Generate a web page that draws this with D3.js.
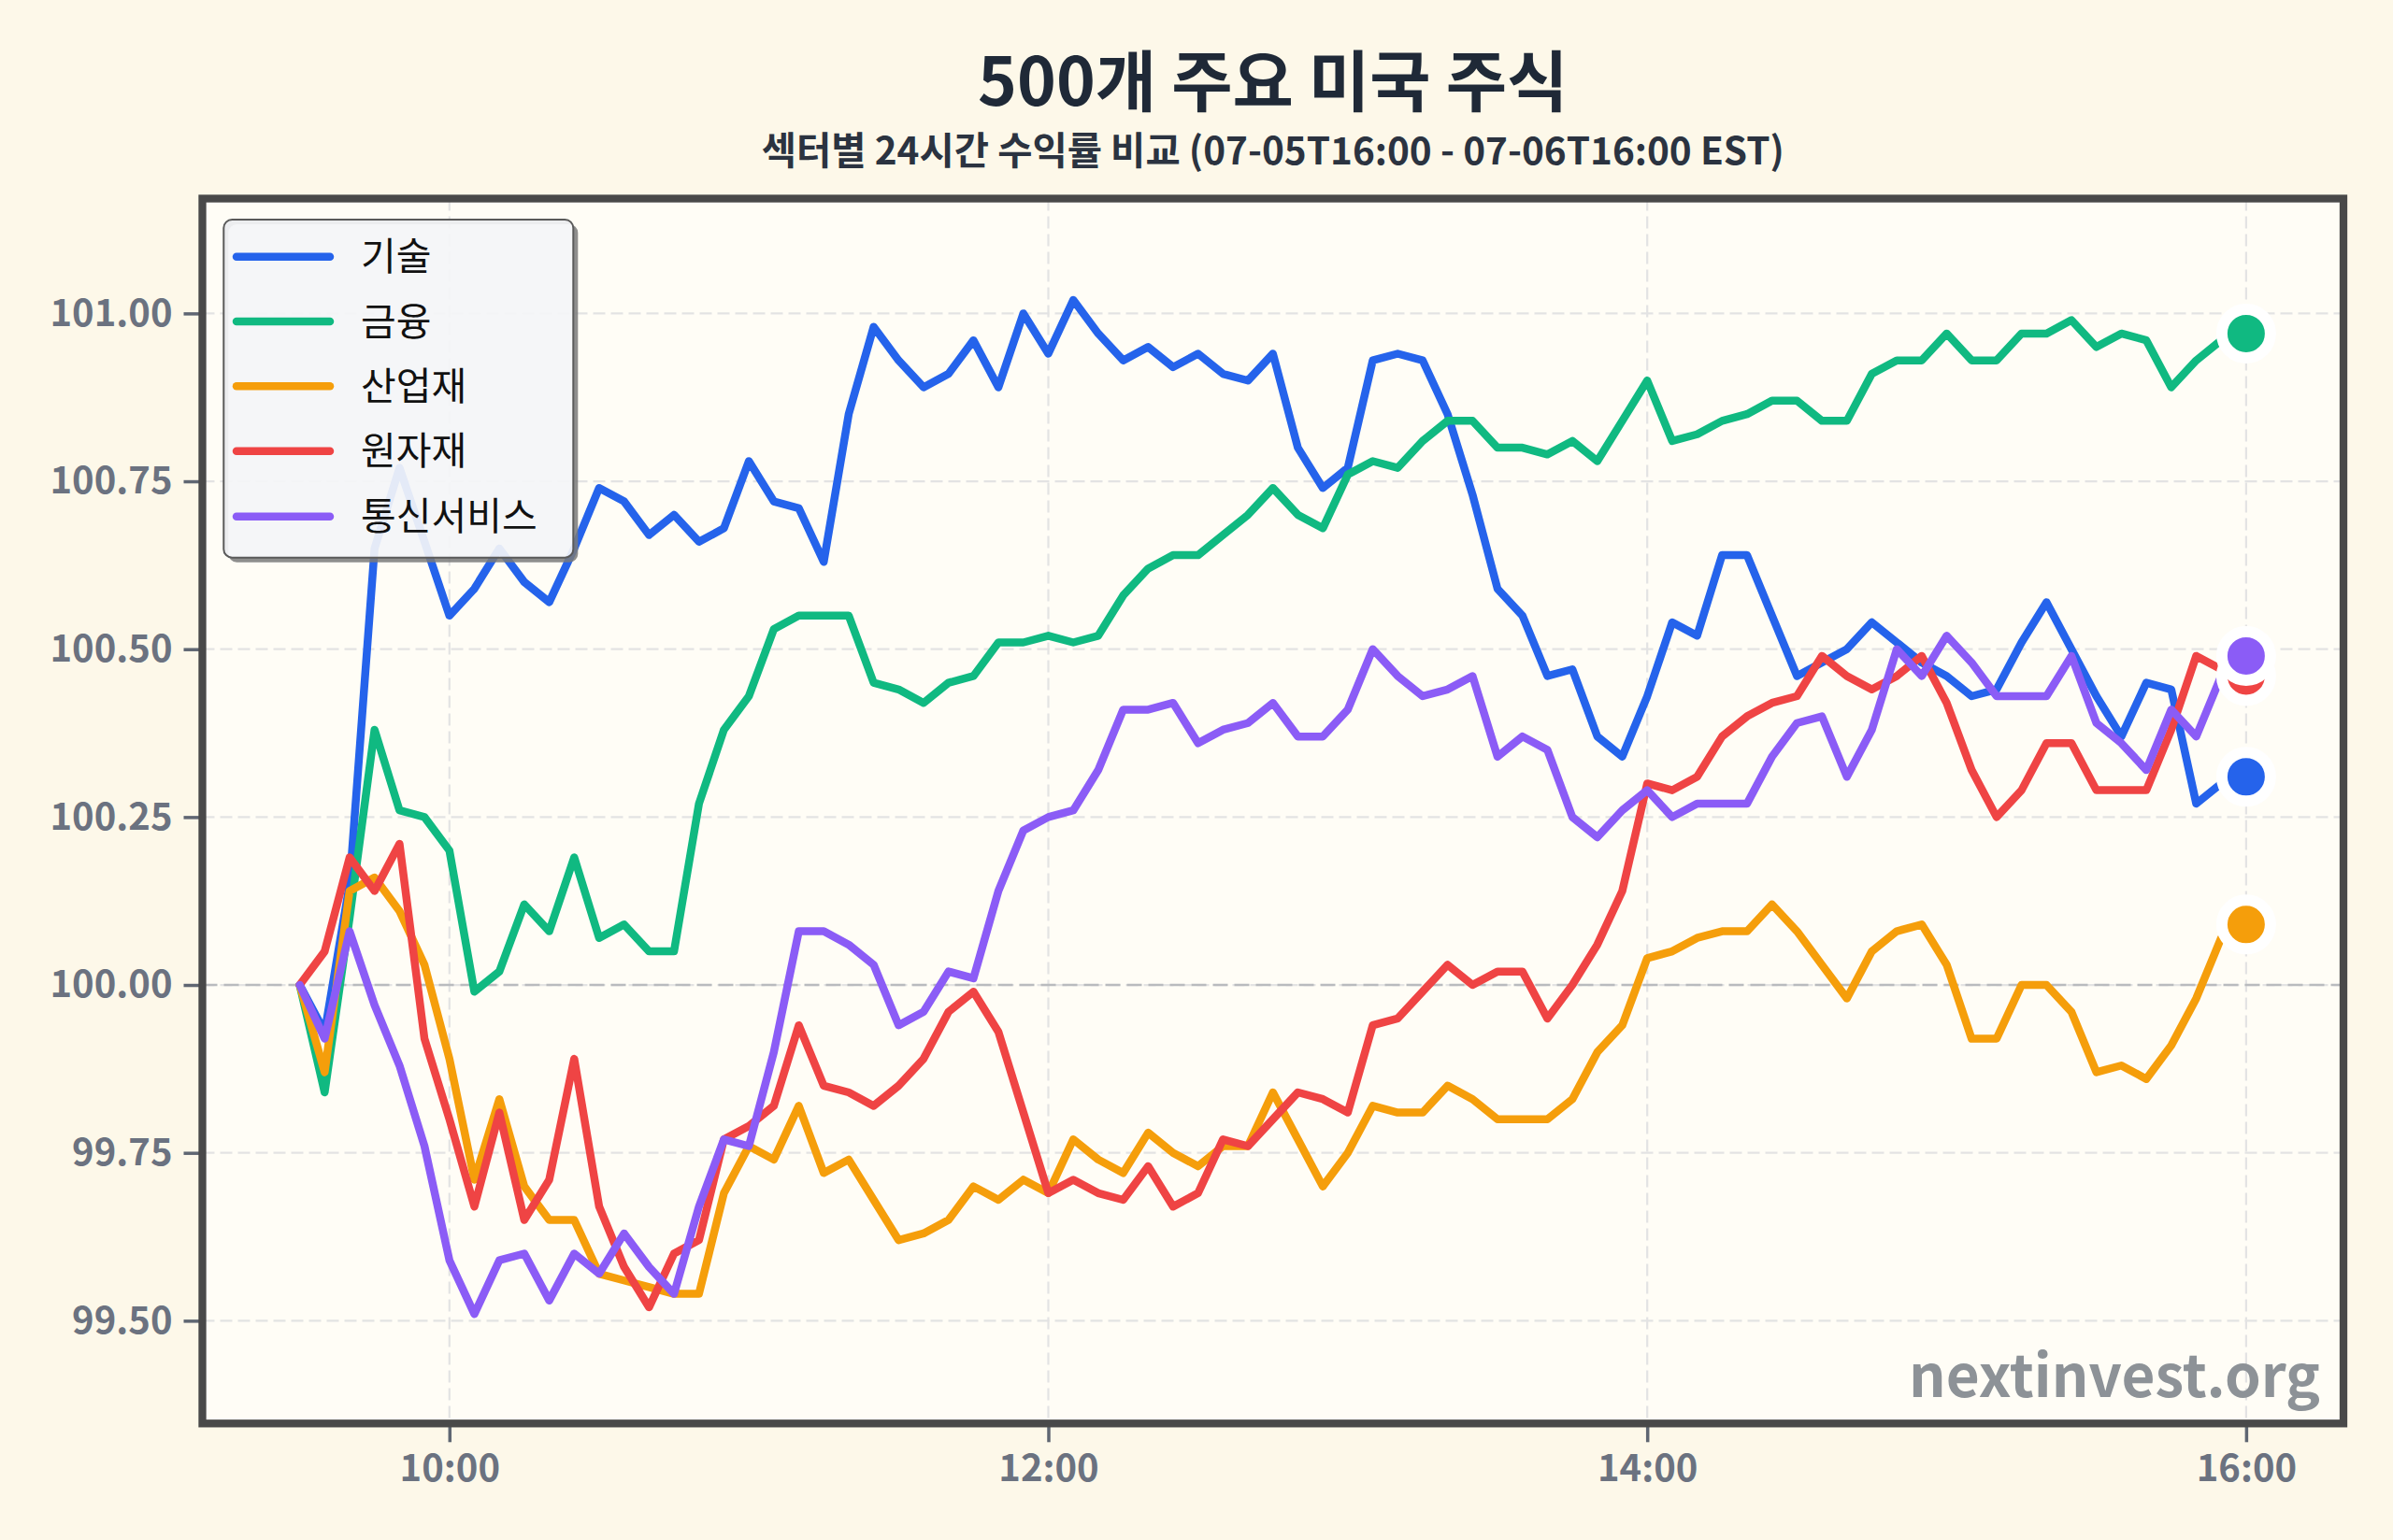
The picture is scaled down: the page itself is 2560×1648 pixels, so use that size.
<!DOCTYPE html>
<html>
<head>
<meta charset="utf-8">
<script src="https://cdn.jsdelivr.net/npm/d3@7"></script>
<style>
  html, body { margin: 0; padding: 0; background: #fdf8e9; }
  svg { display: block; }
</style>
</head>
<body>
<svg id="chart" width="2560" height="1648"></svg>
<script>
// sector names + colours (legend order = draw order)
const sectors = ['기술', '금융', '산업재', '원자재', '통신서비스']
const colors = ['#2563eb', '#10b981', '#f59e0b', '#ef4444', '#8b5cf6']

// 5-minute index values (start = 100), 09:30 .. 16:00
const tech = [100.00, 99.93, 100.15, 100.65, 100.77, 100.66, 100.55, 100.59, 100.65, 100.60,
  100.57, 100.65, 100.74, 100.72, 100.67, 100.70, 100.66, 100.68, 100.78, 100.72,
  100.71, 100.63, 100.85, 100.98, 100.93, 100.89, 100.91, 100.96, 100.89, 101.00,
  100.94, 101.02, 100.97, 100.93, 100.95, 100.92, 100.94, 100.91, 100.90, 100.94,
  100.80, 100.74, 100.77, 100.93, 100.94, 100.93, 100.85, 100.73, 100.59, 100.55,
  100.46, 100.47, 100.37, 100.34, 100.43, 100.54, 100.52, 100.64, 100.64, 100.55,
  100.46, 100.48, 100.50, 100.54, 100.51, 100.48, 100.46, 100.43, 100.44, 100.51,
  100.57, 100.50, 100.43, 100.37, 100.45, 100.44, 100.27, 100.30, 100.31]
const fin = [100.00, 99.84, 100.10, 100.38, 100.26, 100.25, 100.20, 99.99, 100.02, 100.12,
  100.08, 100.19, 100.07, 100.09, 100.05, 100.05, 100.27, 100.38, 100.43, 100.53,
  100.55, 100.55, 100.55, 100.45, 100.44, 100.42, 100.45, 100.46, 100.51, 100.51,
  100.52, 100.51, 100.52, 100.58, 100.62, 100.64, 100.64, 100.67, 100.70, 100.74,
  100.70, 100.68, 100.76, 100.78, 100.77, 100.81, 100.84, 100.84, 100.80, 100.80,
  100.79, 100.81, 100.78, 100.84, 100.90, 100.81, 100.82, 100.84, 100.85, 100.87,
  100.87, 100.84, 100.84, 100.91, 100.93, 100.93, 100.97, 100.93, 100.93, 100.97,
  100.97, 100.99, 100.95, 100.97, 100.96, 100.89, 100.93, 100.96, 100.97]
const ind = [100.00, 99.87, 100.14, 100.16, 100.11, 100.03, 99.89, 99.71, 99.83, 99.70,
  99.65, 99.65, 99.57, 99.56, 99.55, 99.54, 99.54, 99.69, 99.76, 99.74,
  99.82, 99.72, 99.74, 99.68, 99.62, 99.63, 99.65, 99.70, 99.68, 99.71,
  99.69, 99.77, 99.74, 99.72, 99.78, 99.75, 99.73, 99.76, 99.76, 99.84,
  99.77, 99.70, 99.75, 99.82, 99.81, 99.81, 99.85, 99.83, 99.80, 99.80,
  99.80, 99.83, 99.90, 99.94, 100.04, 100.05, 100.07, 100.08, 100.08, 100.12,
  100.08, 100.03, 99.98, 100.05, 100.08, 100.09, 100.03, 99.92, 99.92, 100.00,
  100.00, 99.96, 99.87, 99.88, 99.86, 99.91, 99.98, 100.07, 100.09]
const mat = [100.00, 100.05, 100.19, 100.14, 100.21, 99.92, 99.80, 99.67, 99.81, 99.65,
  99.71, 99.89, 99.67, 99.58, 99.52, 99.60, 99.62, 99.77, 99.79, 99.82,
  99.94, 99.85, 99.84, 99.82, 99.85, 99.89, 99.96, 99.99, 99.93, 99.81,
  99.69, 99.71, 99.69, 99.68, 99.73, 99.67, 99.69, 99.77, 99.76, 99.80,
  99.84, 99.83, 99.81, 99.94, 99.95, 99.99, 100.03, 100.00, 100.02, 100.02,
  99.95, 100.00, 100.06, 100.14, 100.30, 100.29, 100.31, 100.37, 100.40, 100.42,
  100.43, 100.49, 100.46, 100.44, 100.46, 100.49, 100.42, 100.32, 100.25, 100.29,
  100.36, 100.36, 100.29, 100.29, 100.29, 100.38, 100.49, 100.47, 100.46]
const comm = [100.00, 99.92, 100.08, 99.97, 99.88, 99.76, 99.59, 99.51, 99.59, 99.60,
  99.53, 99.60, 99.57, 99.63, 99.58, 99.54, 99.67, 99.77, 99.76, 99.90,
  100.08, 100.08, 100.06, 100.03, 99.94, 99.96, 100.02, 100.01, 100.14, 100.23,
  100.25, 100.26, 100.32, 100.41, 100.41, 100.42, 100.36, 100.38, 100.39, 100.42,
  100.37, 100.37, 100.41, 100.50, 100.46, 100.43, 100.44, 100.46, 100.34, 100.37,
  100.35, 100.25, 100.22, 100.26, 100.29, 100.25, 100.27, 100.27, 100.27, 100.34,
  100.39, 100.40, 100.31, 100.38, 100.50, 100.46, 100.52, 100.48, 100.43, 100.43,
  100.43, 100.49, 100.39, 100.36, 100.32, 100.41, 100.37, 100.46, 100.49]

const yTicks = [99.5, 99.75, 100, 100.25, 100.5, 100.75, 101]
const xTickLabels = ['10:00', '12:00', '14:00', '16:00']
const sessionStart = '09:30'
const stepMinutes = 5

const series = [tech, fin, ind, mat, comm]

// ---- layout ----
const box = { left: 216.5, right: 2507, top: 212.5, bottom: 1523.3 }
const day = '2024-07-06'
const parse = d3.timeParse('%Y-%m-%d %H:%M')
const t0 = parse(day + ' ' + sessionStart)
const timeAt = i => d3.timeMinute.offset(t0, i * stepMinutes)

const svg = d3.select('#chart')

// 09:10:30 .. 16:19:30 (5% padding round the session)
let x = d3.scaleTime()
  .domain([d3.timeSecond.offset(parse(day + ' 09:10'), 30), d3.timeSecond.offset(parse(day + ' 16:19'), 30)])
  .range([box.left, box.right])

let y = d3.scaleLinear().domain([99.347, 101.171]).range([box.bottom, box.top])

svg.append('rect').attr('width', 2560).attr('height', 1648).attr('fill', '#fdf8e9')
svg.append('rect')
  .attr('x', box.left).attr('y', box.top)
  .attr('width', box.right - box.left).attr('height', box.bottom - box.top)
  .attr('fill', '#fffdf6')

svg.append('clipPath').attr('id', 'plotclip').append('rect')
  .attr('x', box.left).attr('y', box.top)
  .attr('width', box.right - box.left).attr('height', box.bottom - box.top)

// grid
let grid = svg.append('g').attr('clip-path', 'url(#plotclip)')
const xTicks = xTickLabels.map(s => parse(day + ' ' + s))
grid.selectAll('.vgrid').data(xTicks).enter().append('line')
  .attr('class', 'vgrid')
  .attr('x1', d => x(d)).attr('x2', d => x(d))
  .attr('y1', box.top).attr('y2', box.bottom)
  .attr('stroke', '#e3e3e3').attr('stroke-width', 2.2).attr('stroke-dasharray', '13,6')
grid.selectAll('.hgrid').data(yTicks).enter().append('line')
  .attr('class', 'hgrid')
  .attr('x1', box.left).attr('x2', box.right)
  .attr('y1', d => y(d)).attr('y2', d => y(d))
  .attr('stroke', '#e3e3e3').attr('stroke-width', 2.2).attr('stroke-dasharray', '13,6')
// baseline at 100
grid.append('line')
  .attr('x1', box.left).attr('x2', box.right)
  .attr('y1', y(100)).attr('y2', y(100))
  .attr('stroke', '#b9bbbe').attr('stroke-width', 2.6).attr('stroke-dasharray', '16,7')

// lines
let line = d3.line()
  .x((d, i) => x(timeAt(i)))
  .y(d => y(d))

let lines = svg.append('g').attr('clip-path', 'url(#plotclip)')
series.forEach((s, k) => {
  lines.append('path')
    .datum(s)
    .attr('d', line)
    .attr('fill', 'none')
    .attr('stroke', colors[k])
    .attr('stroke-width', 8.5)
    .attr('stroke-linejoin', 'round')
    .attr('stroke-linecap', 'round')
})

// end markers
let markers = svg.append('g')
series.forEach((s, k) => {
  let last = s.length - 1
  markers.append('circle')
    .attr('cx', x(timeAt(last)))
    .attr('cy', y(s[last]))
    .attr('r', 26)
    .attr('fill', colors[k])
    .attr('stroke', '#ffffff')
    .attr('stroke-width', 12)
})

// watermark
svg.append('text')
  .attr('x', 2482).attr('y', 1495)
  .attr('text-anchor', 'end')
  .attr('font-family', '"Noto Sans CJK KR", "Noto Sans", sans-serif')
  .attr('font-weight', 700)
  .attr('font-size', 62)
  .attr('fill', '#8d9297')
  .text('nextinvest.org')

// axes
let yAxis = d3.axisLeft(y).tickValues(yTicks).tickFormat(d3.format('.2f')).tickSize(20).tickPadding(12)
let axisY = svg.append('g').attr('transform', 'translate(' + box.left + ',0)').call(yAxis)
let xAxis = d3.axisBottom(x).tickValues(xTicks).tickFormat(d3.timeFormat('%H:%M')).tickSize(20).tickPadding(13)
let axisX = svg.append('g').attr('transform', 'translate(0,' + box.bottom + ')').call(xAxis)
;[axisX, axisY].forEach(a => {
  a.select('.domain').remove()
  a.selectAll('.tick line').attr('stroke', '#5f6672').attr('stroke-width', 3.5)
  a.selectAll('.tick text')
    .attr('fill', '#6b7280')
    .attr('font-family', '"Noto Sans CJK KR", "Noto Sans", sans-serif')
    .attr('font-weight', 700)
    .attr('font-size', 40)
})

// frame
svg.append('rect')
  .attr('x', box.left).attr('y', box.top)
  .attr('width', box.right - box.left).attr('height', box.bottom - box.top)
  .attr('fill', 'none').attr('stroke', '#494949').attr('stroke-width', 8.3)

// legend
const lg = { x: 239.3, y: 235, w: 374, h: 361.7, r: 9 }
const rowY = [274.7, 344, 413.3, 482.7, 552.7]
let legend = svg.append('g')
const rr = (x0, y0, w, h, r) => 'M' + (x0 + r) + ',' + y0 + 'h' + (w - 2 * r) + 'a' + r + ',' + r + ' 0 0 1 ' + r + ',' + r +
  'v' + (h - 2 * r) + 'a' + r + ',' + r + ' 0 0 1 ' + (-r) + ',' + r + 'h' + (-(w - 2 * r)) +
  'a' + r + ',' + r + ' 0 0 1 ' + (-r) + ',' + (-r) + 'v' + (-(h - 2 * r)) + 'a' + r + ',' + r + ' 0 0 1 ' + r + ',' + (-r) + 'z'
// shadow (only outside the box so the translucent frame stays clean)
legend.append('path')
  .attr('d', rr(lg.x + 5, lg.y + 5, lg.w, lg.h, lg.r) + rr(lg.x, lg.y, lg.w, lg.h, lg.r))
  .attr('fill-rule', 'evenodd')
  .attr('fill', '#7a7a7a').attr('fill-opacity', 0.85)
legend.append('path')
  .attr('d', rr(lg.x, lg.y, lg.w, lg.h, lg.r))
  .attr('fill', '#f4f5f7').attr('fill-opacity', 0.92)
  .attr('stroke', '#5a5a5a').attr('stroke-width', 2)
sectors.forEach((name, k) => {
  legend.append('line')
    .attr('x1', 253).attr('x2', 353)
    .attr('y1', rowY[k]).attr('y2', rowY[k])
    .attr('stroke', colors[k]).attr('stroke-width', 8.5).attr('stroke-linecap', 'round')
  legend.append('text')
    .attr('x', 386).attr('y', rowY[k]).attr('dy', '0.36em')
    .attr('font-family', '"Noto Sans CJK KR", sans-serif')
    .attr('font-size', 41)
    .attr('fill', '#111111')
    .text(name)
})

// titles
const cx = (box.left + box.right) / 2
svg.append('text')
  .attr('x', cx).attr('y', 113)
  .attr('text-anchor', 'middle')
  .attr('font-family', '"Noto Sans CJK KR", sans-serif')
  .attr('font-weight', 700).attr('font-size', 71)
  .attr('fill', '#1f2937')
  .text('500개 주요 미국 주식')
svg.append('text')
  .attr('x', cx).attr('y', 176)
  .attr('text-anchor', 'middle')
  .attr('font-family', '"Noto Sans CJK KR", sans-serif')
  .attr('font-weight', 700).attr('font-size', 40.5)
  .attr('fill', '#2b3340')
  .text('섹터별 24시간 수익률 비교 (07-05T16:00 - 07-06T16:00 EST)')
</script>
</body>
</html>
